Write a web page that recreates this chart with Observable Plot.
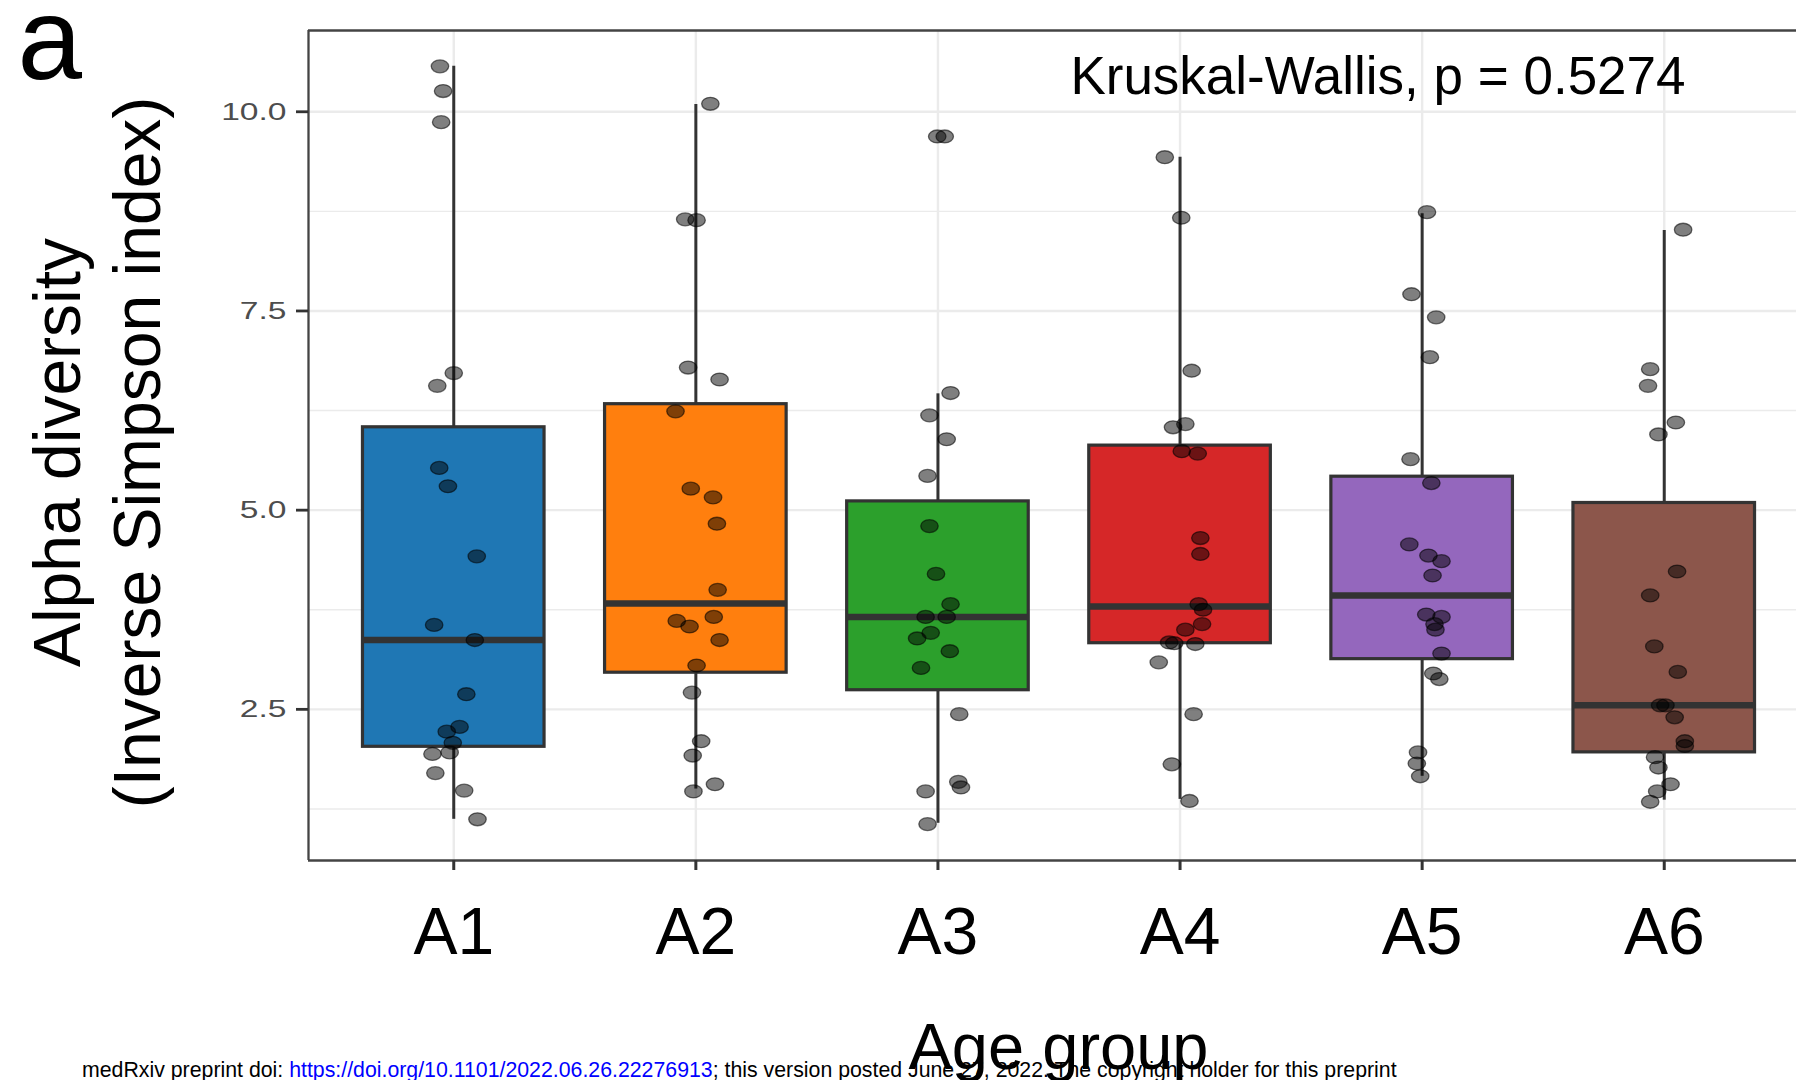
<!DOCTYPE html>
<html>
<head>
<meta charset="utf-8">
<script src="https://cdn.jsdelivr.net/npm/d3@7"></script>
<script src="https://cdn.jsdelivr.net/npm/@observablehq/plot@0.6"></script>
<style>
  html, body { margin: 0; padding: 0; background: #fff; overflow: hidden; }
  #wrap { position: relative; width: 1796px; height: 1080px; overflow: hidden; }
  #footer {
    position: absolute; left: 82px; top: 1060px; white-space: nowrap;
    font-family: "Liberation Sans", Arial, sans-serif; font-size: 21.3px; line-height: 21px; color: #000;
  }
  #footer .link { color: #0000ff; }
</style>
</head>
<body>
<div id="wrap">
  <div id="chart"></div>
  <div id="footer">medRxiv preprint doi: <span class="link">https://doi.org/10.1101/2022.06.26.22276913</span>; this version posted June 27, 2022. The copyright holder for this preprint</div>
</div>
<script>
// ---------- data ----------
const groups = ["A1", "A2", "A3", "A4", "A5", "A6"];
const boxColors = ["#1f77b4", "#ff7f0e", "#2ca02c", "#d62728", "#9467bd", "#8c564b"];

const whiskerLow  = [1.12, 1.50, 1.07, 1.37, 1.66, 1.36];
const quartile1   = [2.03, 2.96, 2.74, 3.33, 3.13, 1.96];
const medians     = [3.37, 3.83, 3.66, 3.79, 3.93, 2.55];
const quartile3   = [6.04, 6.33, 5.11, 5.81, 5.42, 5.09];
const whiskerHigh = [10.57, 10.09, 6.46, 9.43, 8.72, 8.51];

const a1Values = [10.57, 10.26, 9.87, 6.72, 6.56, 5.53, 5.30, 4.42, 3.56, 3.37, 2.69, 2.28, 2.22, 2.08, 1.96, 1.94, 1.70, 1.48, 1.12];
const a1Jitter = [-0.057, -0.044, -0.052, 0.0, -0.068, -0.060, -0.024, 0.095, -0.081, 0.087, 0.052, 0.024, -0.029, -0.004, -0.017, -0.088, -0.076, 0.043, 0.098];

const a2Values = [10.10, 8.65, 8.64, 6.79, 6.64, 6.24, 5.27, 5.16, 4.83, 4.00, 3.66, 3.61, 3.54, 3.37, 3.05, 2.71, 2.10, 1.92, 1.56, 1.47];
const a2Jitter = [0.060, -0.044, 0.003, -0.032, 0.098, -0.084, -0.021, 0.071, 0.087, 0.090, 0.074, -0.079, -0.026, 0.098, 0.003, -0.016, 0.022, -0.013, 0.079, -0.010];

const a3Values = [9.69, 9.69, 6.47, 6.19, 5.89, 5.43, 4.80, 4.20, 3.82, 3.66, 3.66, 3.46, 3.39, 3.23, 3.02, 2.44, 1.59, 1.52, 1.47, 1.06];
const a3Jitter = [-0.003, 0.028, 0.052, -0.035, 0.036, -0.043, -0.035, -0.008, 0.052, -0.051, 0.036, -0.030, -0.086, 0.049, -0.070, 0.088, 0.084, 0.095, -0.051, -0.043];

const a4Values = [9.43, 8.67, 6.75, 6.08, 6.04, 5.74, 5.71, 4.65, 4.45, 3.82, 3.75, 3.57, 3.50, 3.34, 3.33, 3.32, 3.09, 2.44, 1.81, 1.35];
const a4Jitter = [-0.063, 0.005, 0.048, 0.022, -0.029, 0.007, 0.073, 0.084, 0.084, 0.077, 0.095, 0.091, 0.022, -0.045, -0.024, 0.063, -0.088, 0.056, -0.034, 0.039];

const a5Values = [8.74, 7.71, 7.42, 6.92, 5.64, 5.34, 4.57, 4.43, 4.36, 4.18, 3.69, 3.66, 3.57, 3.50, 3.20, 2.95, 2.88, 1.96, 1.82, 1.66];
const a5Jitter = [0.020, -0.044, 0.058, 0.032, -0.048, 0.038, -0.053, 0.026, 0.080, 0.043, 0.017, 0.080, 0.051, 0.055, 0.080, 0.046, 0.071, -0.017, -0.022, -0.008];

const a6Values = [8.52, 6.77, 6.56, 6.10, 5.95, 4.23, 3.93, 3.29, 2.97, 2.55, 2.55, 2.40, 2.10, 2.04, 1.90, 1.77, 1.56, 1.47, 1.34];
const a6Jitter = [0.078, -0.058, -0.067, 0.048, -0.024, 0.053, -0.058, -0.041, 0.056, 0.005, -0.017, 0.043, 0.085, 0.085, -0.038, -0.024, 0.026, -0.029, -0.058];

const yTicks = [2.5, 5.0, 7.5, 10.0];
const yMinorTicks = [1.25, 3.75, 6.25, 8.75];
const xDomain = [0.4, 6.6];
const yDomain = [0.603, 11.02];
const testLabel = ["Kruskal-Wallis, p = 0.5274"];
const testLabelPos = {x: 3.547, y: 10.229};

// ---------- tables built from the arrays ----------
const allValues = [a1Values, a2Values, a3Values, a4Values, a5Values, a6Values];
const allJitter = [a1Jitter, a2Jitter, a3Jitter, a4Jitter, a5Jitter, a6Jitter];
const groupIndex = groups.map((g, i) => i + 1);

const boxes = groups.map((g, i) => ({
  group: g, gx: i + 1, color: boxColors[i],
  low: whiskerLow[i], q1: quartile1[i], med: medians[i], q3: quartile3[i], high: whiskerHigh[i]
}));
const points = groups.flatMap((g, i) =>
  allValues[i].map((v, j) => ({group: g, gx: i + 1 + allJitter[i][j], value: v}))
);

const halfBox = 0.375;

// ellipse-shaped point symbol (the points in the reference are slightly wide)
const ellipse = {
  draw(context, size) {
    const r = Math.sqrt(size / Math.PI);
    const rx = r * 1.15, ry = r * 0.85, k = 0.5523;
    context.moveTo(rx, 0);
    context.bezierCurveTo(rx, ry * k, rx * k, ry, 0, ry);
    context.bezierCurveTo(-rx * k, ry, -rx, ry * k, -rx, 0);
    context.bezierCurveTo(-rx, -ry * k, -rx * k, -ry, 0, -ry);
    context.bezierCurveTo(rx * k, -ry, rx, -ry * k, rx, 0);
    context.closePath();
  }
};

const chart = Plot.plot({
  width: 1796,
  height: 1080,
  marginLeft: 308,
  marginRight: 0,
  marginTop: 30,
  marginBottom: 220,
  style: {fontFamily: "'Liberation Sans', Arial, sans-serif", background: "white"},
  x: {domain: xDomain, range: [308, 1809], axis: null},
  y: {domain: yDomain, axis: null},
  color: {type: "identity"},
  marks: [
    // grid
    Plot.ruleY(yMinorTicks, {stroke: "#ebebeb", strokeWidth: 1.4}),
    Plot.ruleY(yTicks, {stroke: "#ebebeb", strokeWidth: 2.4}),
    Plot.ruleX(groupIndex, {stroke: "#ebebeb", strokeWidth: 2.4}),
    // whiskers
    Plot.ruleX(boxes, {x: "gx", y1: "low", y2: "q1", stroke: "#333", strokeWidth: 3}),
    Plot.ruleX(boxes, {x: "gx", y1: "q3", y2: "high", stroke: "#333", strokeWidth: 3}),
    // boxes
    Plot.rect(boxes, {x1: d => d.gx - halfBox, x2: d => d.gx + halfBox, y1: "q1", y2: "q3",
      fill: "color", stroke: "#333", strokeWidth: 3.2}),
    Plot.ruleY(boxes, {y: "med", x1: d => d.gx - halfBox, x2: d => d.gx + halfBox,
      stroke: "#333", strokeWidth: 6.5}),
    // jittered points
    Plot.dot(points, {x: "gx", y: "value", r: 7.6, symbol: ellipse,
      fill: "black", fillOpacity: 0.5, stroke: "black", strokeOpacity: 0.55, strokeWidth: 1.3}),
    // panel border (right edge lies outside the picture)
    Plot.ruleY([yDomain[0], yDomain[1]], {stroke: "#444", strokeWidth: 2.3}),
    Plot.ruleX([xDomain[0]], {stroke: "#444", strokeWidth: 2.3}),
    // axes
    Plot.axisY({ticks: yTicks, tickFormat: d3.format(".1f"), tickSize: 12, tickPadding: 10,
      fontSize: 24.5, stroke: "#333", strokeWidth: 2.8, fill: "#4d4d4d", label: null}),
    Plot.axisX({ticks: groupIndex, tickFormat: i => groups[i - 1], tickSize: 10, tickPadding: 36.4,
      fontSize: 66, stroke: "#333", strokeWidth: 3, fill: "black", label: null}),
    // statistic annotation
    Plot.text(testLabel, {x: () => testLabelPos.x, y: () => testLabelPos.y, textAnchor: "start",
      lineAnchor: "bottom", fontSize: 53, fill: "black"}),
    // axis titles and panel letter
    Plot.text(["Alpha diversity\n(Inverse Simpson index)"], {frameAnchor: "left", rotate: -90,
      textAnchor: "middle", dx: -214, dy: 7, lineAnchor: "middle", lineHeight: 1.217,
      fontSize: 66, fill: "black"}),
    Plot.text(["Age group"], {frameAnchor: "bottom", dx: 6, dy: 208, lineAnchor: "bottom",
      fontSize: 65, fill: "black"}),
    Plot.text(["a"], {frameAnchor: "top-left", dx: -291, dy: 48, lineAnchor: "bottom",
      textAnchor: "start", fontSize: 116, fill: "black"})
  ]
});

chart.style.overflow = "hidden";
document.getElementById("chart").appendChild(chart);

// the tick labels of the y axis are horizontally stretched in the reference
d3.select(chart).selectAll('g[aria-label="y-axis tick label"] text').each(function () {
  const t = this.getAttribute("transform") || "";
  this.setAttribute("transform", t + " scale(1.37,1)");
});
</script>
</body>
</html>
